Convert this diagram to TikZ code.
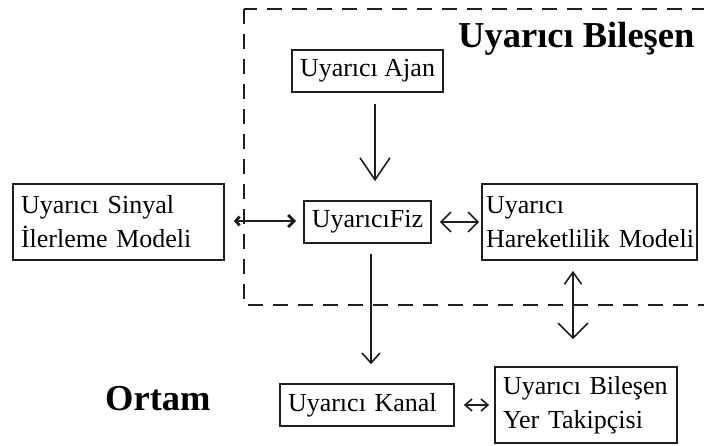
\documentclass[tikz,border=0pt]{standalone}
\usepackage{fontspec}
\setmainfont{Liberation Serif}
\usetikzlibrary{arrows.meta}
\definecolor{ink}{HTML}{1E1E1E}

\begin{document}
\begin{tikzpicture}[x=1pt,y=-1pt,
  box/.style={draw=ink, line width=1.6pt, inner ysep=0pt, text=black,
              font=\fontsize{26}{34}\selectfont},
  wire/.style={draw=ink, line width=1.6pt},
  heading/.style={font=\fontsize{36.5}{40}\selectfont\bfseries, text=black,
                  inner sep=0pt, anchor=base west}]
\useasboundingbox (0,0) rectangle (704,445);

% component frame
\draw[ink, line width=1.6pt, dash pattern=on 15pt off 10pt] (244,9) rectangle (704.5,305);

% headings
\node[heading] (title) at (458,47) {Uyarıcı Bileşen};
\node[heading] (ortam) at (105,410) {Ortam};

% blocks
\node[box, minimum width=151, minimum height=42, inner xsep=0pt] (ajan) at (367.5,71) {Uyarıcı Ajan};
\node[box, minimum width=127, minimum height=42, inner xsep=0pt] (fiz) at (367.5,222) {UyarıcıFiz};
\node[box, text width=195, inner xsep=8pt, minimum height=76, align=left] (sinyal) at (118.5,222)
  {\mbox{Uyarıcı Sinyal}\\\mbox{İlerleme Modeli}};
\node[box, text width=207, inner xsep=4pt, minimum height=76, align=left] (hareket) at (589.5,222)
  {\mbox{Uyarıcı}\\\mbox{Hareketlilik Modeli}};
\node[box, text width=158, inner xsep=8pt, minimum height=42, align=left] (kanal) at (367,405)
  {\mbox{Uyarıcı Kanal}};
\node[box, text width=166, inner xsep=8pt, minimum height=76, align=left] (takip) at (586,405)
  {\mbox{Uyarıcı Bileşen}\\\mbox{Yer Takipçisi}};

% connectors
\draw[wire, -{Straight Barb[length=22pt,width=30pt]}, shorten <=11pt, shorten >=19pt]
  ([xshift=7.5pt]ajan.south) -- ([xshift=7.5pt]fiz.north);
\draw[wire, -{Straight Barb[length=10pt,width=18pt]}, shorten <=10pt, shorten >=19pt]
  ([xshift=3.5pt]fiz.south) -- ([xshift=4pt]kanal.north);
\draw[wire, {Straight Barb[length=12pt,width=17pt]}-{Straight Barb[length=15pt,width=30pt]},
  shorten <=10pt, shorten >=27pt]
  ([xshift=-16.5pt]hareket.south) -- ([xshift=-13pt]takip.north);
\draw[wire, line width=2.8pt, {Straight Barb[length=4pt,width=9pt]}-{Straight Barb[length=6pt,width=12pt]},
  shorten <=9pt, shorten >=7pt]
  ([yshift=1pt]sinyal.east) -- ([yshift=1pt]fiz.west);
\draw[wire, {Straight Barb[length=10pt,width=20pt]}-{Straight Barb[length=10pt,width=20pt]},
  shorten <=8pt, shorten >=2pt]
  (fiz.east) -- (hareket.west);
\draw[wire, {Straight Barb[length=7pt,width=12pt]}-{Straight Barb[length=7pt,width=12pt]},
  shorten <=9pt, shorten >=5pt]
  (kanal.east) -- (takip.west);
\end{tikzpicture}
\end{document}
